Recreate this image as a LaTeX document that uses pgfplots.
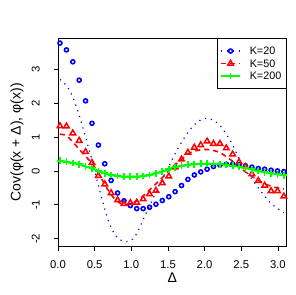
\documentclass[border=0pt]{standalone}
\usepackage{fontspec}
\setmainfont{Liberation Sans}
\usepackage{pgfplots}
\usepackage{pgfplotstable}
\pgfplotsset{compat=1.18}
\usetikzlibrary{calc}
\definecolor{rblue}{RGB}{0,0,255}
\definecolor{rred}{RGB}{255,0,0}
\definecolor{rgreen}{RGB}{0,255,0}

\pgfplotstableread{
x b r g bl rl
0.027 3.76 1.32 0.30 2.69 1.08
0.115 3.56 1.31 0.27 2.51 1.04
0.202 3.21 1.11 0.23 2.17 0.85
0.289 2.67 0.89 0.20 1.64 0.64
0.376 2.06 0.56 0.13 0.99 0.43
0.464 1.40 0.24 0.08 0.32 0.22
0.551 0.76 -0.14 0.00 -0.43 -0.06
0.638 0.21 -0.39 -0.07 -1.12 -0.40
0.725 -0.28 -0.65 -0.12 -1.67 -0.70
0.813 -0.65 -0.86 -0.15 -1.97 -0.90
0.900 -0.88 -0.97 -0.17 -2.07 -1.00
0.987 -1.02 -0.94 -0.17 -2.06 -0.97
1.074 -1.11 -0.93 -0.17 -1.85 -0.88
1.162 -1.11 -0.83 -0.15 -1.43 -0.74
1.249 -1.07 -0.68 -0.12 -1.03 -0.56
1.336 -0.98 -0.58 -0.07 -0.63 -0.38
1.423 -0.87 -0.36 -0.02 -0.22 -0.20
1.511 -0.76 -0.16 0.05 0.12 0.00
1.598 -0.61 0.11 0.11 0.51 0.18
1.685 -0.43 0.34 0.15 0.84 0.34
1.772 -0.25 0.54 0.18 1.13 0.50
1.860 -0.12 0.69 0.20 1.36 0.58
1.947 -0.03 0.76 0.21 1.50 0.62
2.034 0.05 0.87 0.21 1.55 0.63
2.121 0.13 0.80 0.21 1.49 0.60
2.209 0.17 0.80 0.20 1.34 0.54
2.296 0.20 0.67 0.18 1.08 0.42
2.383 0.20 0.49 0.15 0.76 0.28
2.470 0.18 0.26 0.13 0.37 0.12
2.558 0.15 0.12 0.08 0.03 -0.03
2.645 0.11 -0.09 0.05 -0.24 -0.16
2.732 0.07 -0.29 0.00 -0.50 -0.28
2.819 0.05 -0.43 -0.04 -0.74 -0.38
2.907 0.02 -0.59 -0.07 -0.96 -0.45
2.994 0.00 -0.59 -0.10 -1.10 -0.50
3.081 -0.02 -0.75 -0.13 -1.23 -0.53
}\data

\tikzset{
  bdot/.style={rblue, line width=1.2bp, dash pattern=on 1.2bp off 4.8bp},
  rdash/.style={rred, line width=1.6bp, dash pattern=on 5bp off 4bp},
  gsol/.style={rgreen, line width=2bp},
  bmark/.style={rblue, mark=o, mark size=2bp, mark options={solid, line width=1.6bp}},
  rmark/.style={rred, mark=triangle, mark size=3.2bp, mark options={solid, line width=1.5bp}},
  gmark/.style={rgreen, mark=+, mark size=3.4bp, mark options={solid, line width=1.7bp}},
}

\begin{document}
\begin{tikzpicture}
\begin{axis}[
  name=ax,
  scale only axis,
  width=228.7bp, height=208.7bp,
  xmin=0, xmax=3.12, ymin=-2.23, ymax=3.91,
  axis line style={line width=0.8bp},
  tick style={line width=0.8bp, black},
  tick align=outside,
  major tick length=4.3bp,
  xtick pos=bottom, ytick pos=left,
  xtick={0,0.5,1,1.5,2,2.5,3},
  xticklabels={0.0,0.5,1.0,1.5,2.0,2.5,3.0},
  ytick={-2,-1,0,1,2,3},
  yticklabels={-2,-1,0,1,2,3},
  xticklabel style={font=\fontsize{11.3bp}{13bp}\selectfont, anchor=center},
  xticklabel shift=13.3bp,
  yticklabel style={font=\fontsize{11.3bp}{13bp}\selectfont, rotate=90, anchor=center},
  yticklabel shift=18bp,
  xlabel={Δ},
  xlabel style={at={(axis description cs:0.5,-0.15)}, anchor=center, font=\fontsize{14bp}{16bp}\selectfont},
  ylabel={Cov(φ(x + Δ), φ(x))},
  ylabel style={at={(axis description cs:-0.179,0.5)}, anchor=center, font=\fontsize{14bp}{16bp}\selectfont},
  legend image code/.code={\draw[mark repeat=2,mark phase=2,#1] plot coordinates {(0bp,0bp) (9.5bp,0bp) (19bp,0bp)}; \path (25.7bp,0bp);},
  legend style={at={(1,1)}, anchor=north east, draw=black, line width=0.8bp,
    inner xsep=3bp, inner ysep=6.4bp, row sep=0bp,
    font=\fontsize{10.8bp}{12bp}\selectfont,
    nodes={inner xsep=2bp, inner ysep=2.5bp, text height=7.5bp, text depth=0bp}},
  legend cell align=left,
]
\addplot[bdot, smooth, forget plot] table[x=x, y=bl] {\data};
\addplot[bmark, only marks, forget plot] table[x=x, y=b] {\data};
\addplot[rdash, smooth, forget plot] table[x=x, y=rl] {\data};
\addplot[rmark, only marks, forget plot] table[x=x, y=r] {\data};
\addplot[gsol, smooth, forget plot] table[x=x, y=g] {\data};
\addplot[gmark, only marks, forget plot] table[x=x, y=g] {\data};
\addlegendimage{bdot, bmark}
\addlegendentry{K=20}
\addlegendimage{rdash, rmark}
\addlegendentry{K=50}
\addlegendimage{gsol, gmark}
\addlegendentry{K=200}
\end{axis}
\path ($(ax.south west)+(-58bp,-48.3bp)$) rectangle ($(ax.north east)+(9.3bp,38bp)$);
\end{tikzpicture}
\end{document}
